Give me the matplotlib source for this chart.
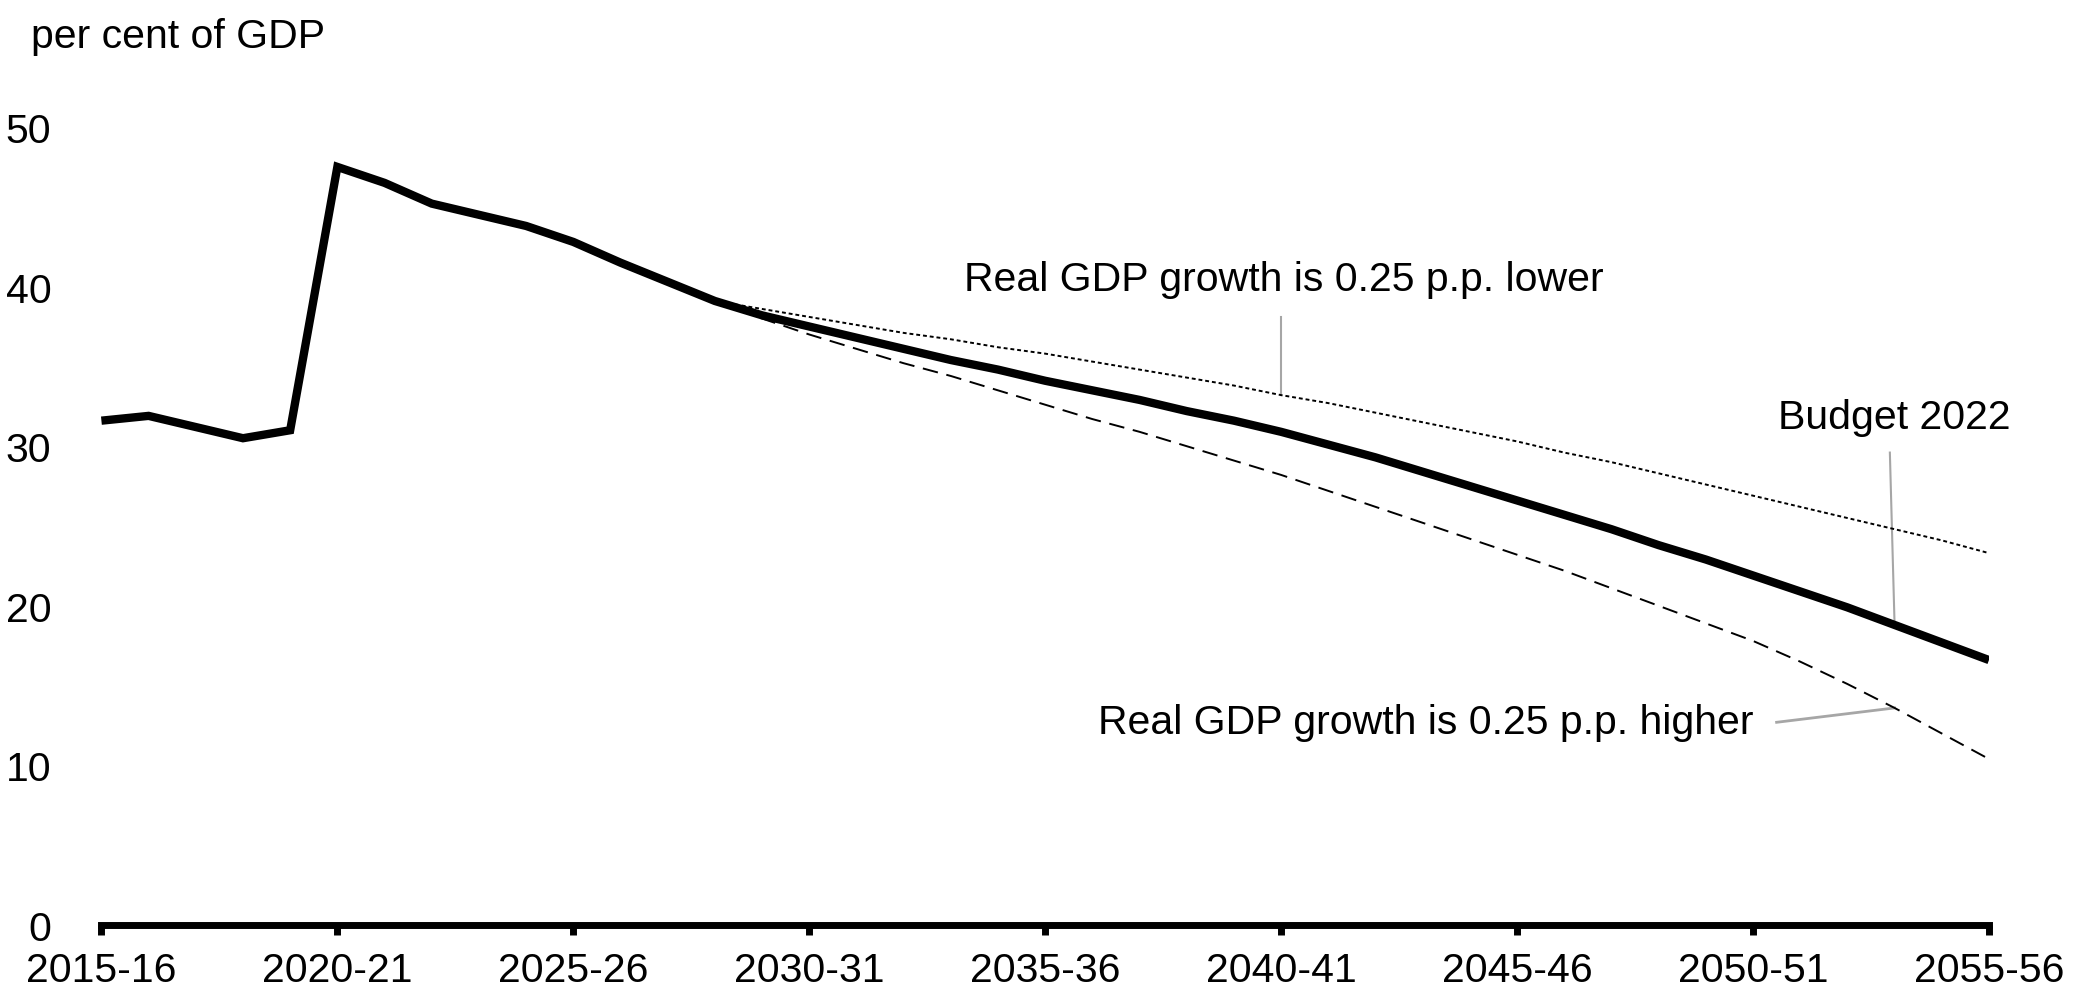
import matplotlib
matplotlib.use('Agg')
import matplotlib.pyplot as plt

plt.rcParams['font.family'] = ['Liberation Sans', 'DejaVu Sans']

# fiscal years 2015-16 .. 2055-56
years = ['%d-%02d' % (y, (y + 1) % 100) for y in range(2015, 2056)]
tick_labels = years[::5]

# Budget 2022 projection, per cent of GDP
budget_2022 = [31.6, 31.9, 31.2, 30.5, 31.0, 47.5, 46.5, 45.2, 44.5, 43.8,
               42.8, 41.5, 40.3, 39.1, 38.2, 37.5, 36.8, 36.1, 35.4, 34.8,
               34.1, 33.5, 32.9, 32.2, 31.6, 30.9, 30.1, 29.3, 28.4, 27.5,
               26.6, 25.7, 24.8, 23.8, 22.9, 21.9, 20.9, 19.9, 18.8, 17.7,
               16.6]

# scenarios start in 2028-29
scen_start = 13
growth_lower = [39.1, 38.6, 38.1, 37.6, 37.1, 36.7, 36.2, 35.8, 35.3, 34.8,
                34.3, 33.8, 33.2, 32.7, 32.1, 31.5, 30.9, 30.3, 29.6, 29.0,
                28.3, 27.6, 26.9, 26.2, 25.5, 24.8, 24.1, 23.3]
growth_higher = [39.1, 38.0, 37.0, 36.1, 35.2, 34.4, 33.5, 32.6, 31.7, 30.9,
                 30.0, 29.1, 28.2, 27.2, 26.2, 25.2, 24.2, 23.2, 22.2, 21.1,
                 20.0, 18.9, 17.8, 16.5, 15.1, 13.6, 12.0, 10.4]

x_all = list(range(len(years)))
x_scen = x_all[scen_start:]

fig = plt.figure(figsize=(20.91, 10.04), dpi=100)
ax = fig.add_axes([0.0485, 0.0777, 0.9027, 0.7948])

grey = '#a6a6a6'
ax.plot(x_all, budget_2022, color='black', lw=6, solid_joinstyle='miter',
        solid_capstyle='butt', zorder=3)
ax.plot(x_scen, growth_lower, color='black', lw=1.4, ls=(0, (2, 1.5)), zorder=4)
ax.plot(x_scen, growth_higher, color='black', lw=1.4, ls=(0, (8, 4.5)), zorder=4)

fs = 29.5
# annotations
ax.text(25.05, 40.5, 'Real GDP growth is 0.25 p.p. lower', fontsize=fs,
        ha='center', va='center')
ax.plot([25, 25], [38.1, growth_lower[25 - scen_start]], color=grey, lw=1.5)

ax.text(38.0, 31.8, 'Budget 2022', fontsize=fs, ha='center', va='center')
ax.plot([37.9, 38], [29.6, budget_2022[38]], color=grey, lw=1.5)

ax.text(35.0, 12.7, 'Real GDP growth is 0.25 p.p. higher', fontsize=fs,
        ha='right', va='center')
ax.plot([35.5, 38], [12.7, growth_higher[38 - scen_start]], color=grey, lw=2)

fig.text(0.015, 0.9627, 'per cent of GDP', fontsize=fs, ha='left', va='center')

ax.set_xlim(0, 40)
ax.set_ylim(0, 50)
ax.set_xticks(x_all[::5])
ax.set_xticklabels(tick_labels, fontsize=fs)
ax.set_yticks(range(0, 51, 10))
ax.tick_params(axis='y', length=0, labelsize=fs, pad=36)
ax.tick_params(axis='x', length=7.5, width=5, direction='out', pad=11)
for s in ['top', 'right', 'left']:
    ax.spines[s].set_visible(False)
ax.spines['bottom'].set_linewidth(5)

fig.savefig('out.png', dpi=100)
